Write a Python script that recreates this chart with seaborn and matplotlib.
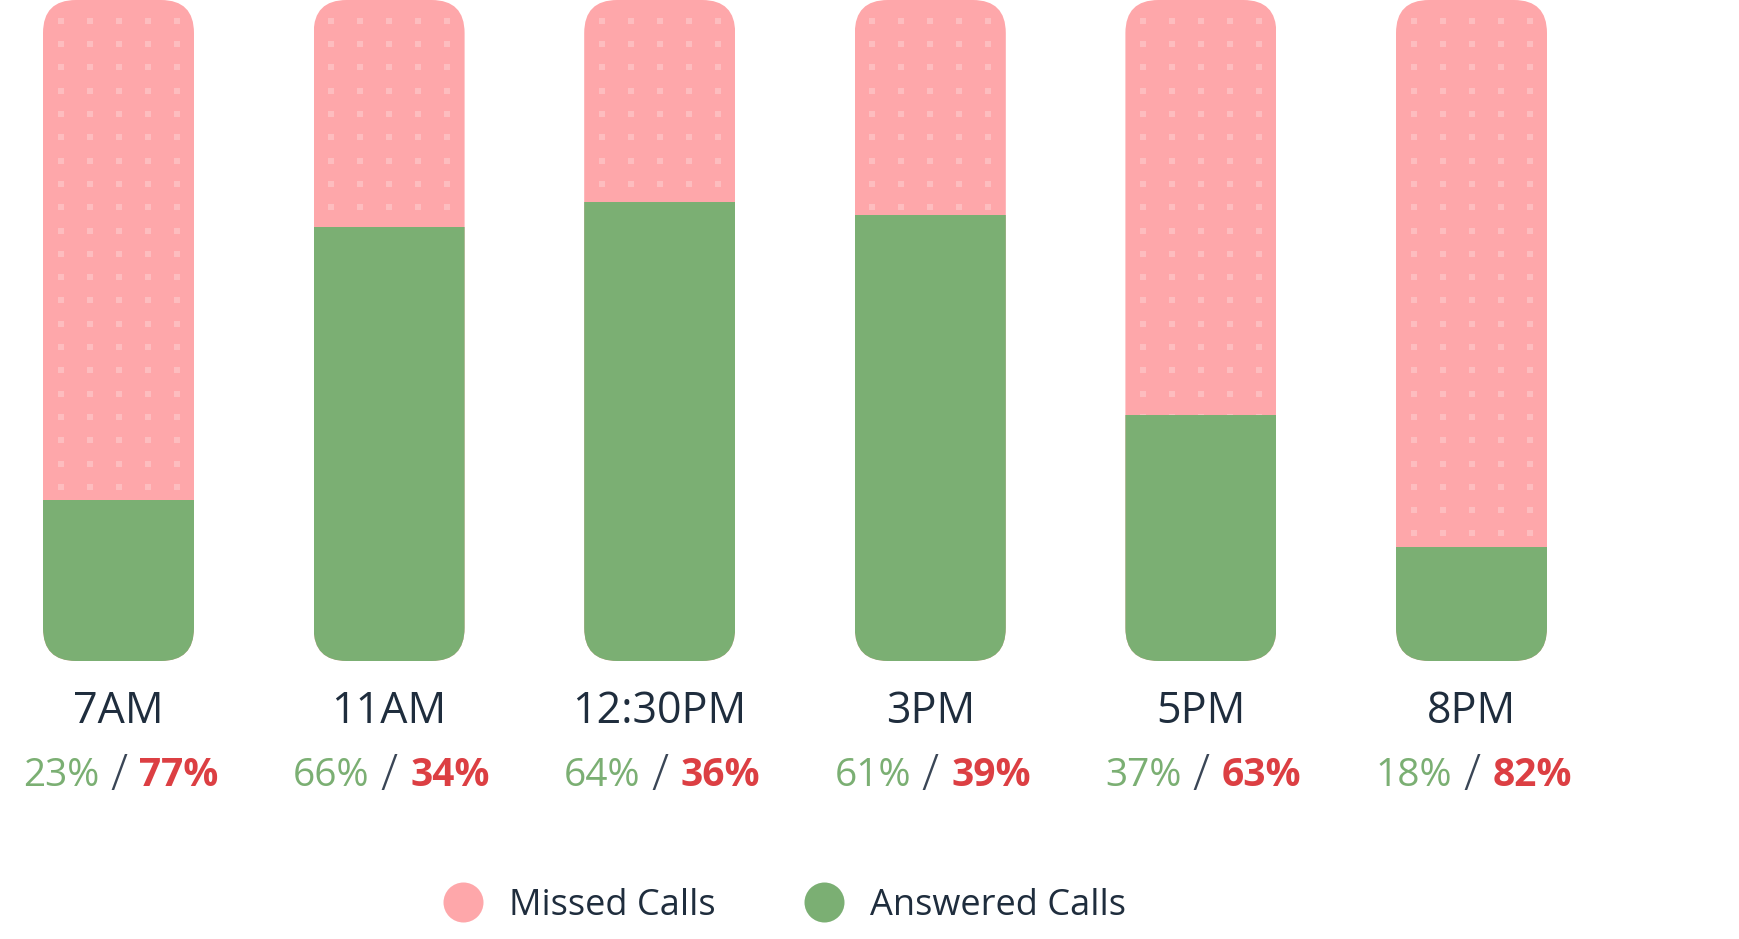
import numpy as np
import pandas as pd
import matplotlib
matplotlib.use("Agg")
import matplotlib.pyplot as plt
import seaborn as sns
from matplotlib.patches import FancyBboxPatch
from matplotlib.lines import Line2D
from matplotlib.transforms import offset_copy

# ---------------- data ----------------
times = ["7AM", "11AM", "12:30PM", "3PM", "5PM", "8PM"]
answered_label = [23, 66, 64, 61, 37, 18]
missed_label = [77, 34, 36, 39, 63, 82]
# heights of the green (answered) segments as drawn in the chart (% of bar)
answered_bar = [24.4, 65.7, 69.4, 67.4, 37.2, 17.3]
total_bar = [100, 100, 100, 100, 100, 100]
legend_labels = ["Missed Calls", "Answered Calls"]

# ---------------- style ----------------
PINK = "#FEA7AA"
DOT = "#FDBDBF"
GREEN = "#7BAF73"
RED = "#DC3F43"
DARK = "#1F2D3D"
SLASH = "#3A4656"

sns.set_theme(style="white")
plt.rcParams["font.family"] = ["Open Sans", "DejaVu Sans"]

WPX, HPX, DPI = 1740, 939, 100
fig = plt.figure(figsize=(WPX / DPI, HPX / DPI), dpi=DPI)
ax = fig.add_axes([0, 0, 1, 1])

df = pd.DataFrame({"time": times, "total": total_bar, "answered": answered_bar})
BW = 0.558
sns.barplot(data=df, x="time", y="total", color=PINK, saturation=1, width=BW,
            linewidth=0, errorbar=None, ax=ax, zorder=1)
sns.barplot(data=df, x="time", y="answered", color=GREEN, saturation=1, width=BW,
            linewidth=0, errorbar=None, ax=ax, zorder=3)

PITCH = 270.6
X0PX = 118.5
BASE_PX = 661.0
x0 = -X0PX / PITCH
x1 = (WPX - X0PX) / PITCH
ylo = -(HPX - BASE_PX) / BASE_PX * 100
ax.set_xlim(x0, x1)
ax.set_ylim(ylo, 100)
ax.axis("off")

ux = (x1 - x0) / WPX
uy = (100 - ylo) / HPX

# rounded clipping for every bar
R_PX = 33
clips = {}
for i in range(len(times)):
    clips[i] = FancyBboxPatch((i - BW / 2, 0), BW, 100,
                              boxstyle=f"round,pad=0,rounding_size={R_PX * ux}",
                              mutation_aspect=uy / ux, transform=ax.transData,
                              facecolor="none", edgecolor="none")
for p in ax.patches:
    idx = int(round(p.get_x() + p.get_width() / 2))
    p.set_clip_path(clips[idx])

# dotted texture on the missed part
col_off = np.arange(-2, 3) * 29 * ux
rows = 100 - (20.8 + 23.3 * np.arange(0, 28)) * uy
dx, dy = [], []
for i in range(len(times)):
    for r in rows:
        for c in col_off:
            dx.append(i + c)
            dy.append(r)
ax.scatter(dx, dy, marker="s", s=(5.5 * 72 / DPI) ** 2, color=DOT, linewidths=0, zorder=2)

# labels
y_time = -(723 - BASE_PX) * uy
y_pct = -(785.5 - BASE_PX) * uy
left_tr = offset_copy(ax.transData, fig=fig, x=-19.5, y=0, units="dots")
right_tr = offset_copy(ax.transData, fig=fig, x=21, y=0, units="dots")
slash_tr = offset_copy(ax.transData, fig=fig, x=0, y=-5, units="dots")
for i, t in enumerate(times):
    ax.text(i, y_time, t, ha="center", va="baseline", fontsize=31, color=DARK)
    ax.text(i, y_pct, "/", ha="center", va="baseline", fontsize=36, color=SLASH,
            fontweight="light", transform=slash_tr)
    ax.text(i, y_pct, f"{answered_label[i]}%", ha="right", va="baseline", fontsize=28,
            color=GREEN, transform=left_tr)
    ax.text(i, y_pct, f"{missed_label[i]}%", ha="left", va="baseline", fontsize=28,
            color=RED, fontweight="bold", transform=right_tr)

# legend
handles = [
    Line2D([], [], marker="o", linestyle="none", markersize=40 * 72 / DPI,
           markerfacecolor=PINK, markeredgewidth=0, label=legend_labels[0]),
    Line2D([], [], marker="o", linestyle="none", markersize=40 * 72 / DPI,
           markerfacecolor=GREEN, markeredgewidth=0, label=legend_labels[1]),
]
fig.legend(handles=handles, loc="center left", bbox_to_anchor=(443 / WPX, 1 - 906 / HPX),
           ncol=2, frameon=False, fontsize=26, handlelength=1.11, handletextpad=0.72,
           columnspacing=2.45, labelcolor=DARK, borderpad=0, borderaxespad=0)

fig.savefig("out.png", dpi=DPI, facecolor="white")
